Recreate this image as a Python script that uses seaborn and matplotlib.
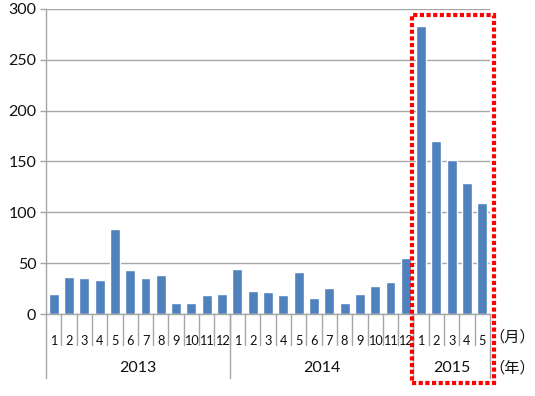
import matplotlib
matplotlib.use("Agg")
import matplotlib.pyplot as plt
import matplotlib.transforms as mtransforms
from matplotlib.patches import Rectangle
import seaborn as sns
import pandas as pd

# ---- data ----
years = ["2013", "2014", "2015"]
months_2013 = [1, 2, 3, 4, 5, 6, 7, 8, 9, 10, 11, 12]
months_2014 = [1, 2, 3, 4, 5, 6, 7, 8, 9, 10, 11, 12]
months_2015 = [1, 2, 3, 4, 5]
values_2013 = [20, 36, 35, 33, 84, 43, 35, 38, 11, 11, 19, 20]
values_2014 = [44, 23, 22, 19, 41, 16, 26, 11, 20, 28, 31, 55]
values_2015 = [283, 170, 151, 129, 109]
y_ticks = [0, 50, 100, 150, 200, 250, 300]
month_unit = "（月）"
year_unit = "（年）"

month_groups = [months_2013, months_2014, months_2015]
value_groups = [values_2013, values_2014, values_2015]
keys, labels, vals, yrs = [], [], [], []
for y, ms, vs in zip(years, month_groups, value_groups):
    for m, v in zip(ms, vs):
        keys.append(f"{y}-{m}")
        labels.append(str(m))
        vals.append(v)
        yrs.append(y)
df = pd.DataFrame({"key": keys, "value": vals, "year": yrs})

sns.set_style("white")
plt.rcParams["font.family"] = ["Lato", "Noto Sans CJK JP", "DejaVu Sans"]

fig = plt.figure(figsize=(5.35, 3.96), dpi=100)
ax = fig.add_axes([46 / 535, 1 - 314 / 396, 444 / 535, 305 / 396])

sns.barplot(data=df, x="key", y="value", color="#4F81BD", saturation=1,
            width=0.65, ax=ax, order=keys)

n = len(keys)
ax.set_xlim(-0.5, n - 0.5)
ax.set_ylim(0, 300)
ax.set_yticks(y_ticks)
ax.set_yticklabels([str(t) for t in y_ticks], fontsize=11.5, color="#111111")
ax.yaxis.grid(True, color="#A6A6A6", linewidth=1.0)
ax.set_axisbelow(True)
ax.set_xlabel("")
ax.set_ylabel("")
ax.set_xticks(range(n))
ax.set_xticklabels(labels, fontsize=9.2, color="#111111")
ax.tick_params(axis="x", length=0, pad=15)
ax.tick_params(axis="y", length=4, width=1, color="#A6A6A6", pad=3, left=True)
for s in ["top", "right"]:
    ax.spines[s].set_visible(False)
for s in ["left", "bottom"]:
    ax.spines[s].set_color("#A6A6A6")
    ax.spines[s].set_linewidth(1.0)

trans = mtransforms.blended_transform_factory(ax.transData, ax.transAxes)
H = 305.0
month_sep = -31 / H
year_sep = -64 / H

# month separators
for i in range(1, n):
    ax.plot([i - 0.5, i - 0.5], [0, month_sep], transform=trans, color="#A6A6A6",
            linewidth=1.0, clip_on=False)
# year separators
start = 0
bounds = [-0.5]
for ms in month_groups:
    start += len(ms)
    bounds.append(start - 0.5)
for b in bounds:
    ax.plot([b, b], [0, year_sep], transform=trans, color="#A6A6A6",
            linewidth=1.0, clip_on=False)
# year labels
for i, y in enumerate(years):
    c = (bounds[i] + bounds[i + 1]) / 2
    ax.text(c, -54 / H, y, transform=trans, ha="center", va="center",
            fontsize=11.5, color="#111111")

# units
fig.text(512 / 535, 1 - 337 / 396, month_unit, ha="center", va="center",
         fontsize=11, color="#111111", family=["Noto Sans CJK JP"])
fig.text(512 / 535, 1 - 368 / 396, year_unit, ha="center", va="center",
         fontsize=11, color="#111111", family=["Noto Sans CJK JP"])

# red dotted highlight box around 2015
x0 = bounds[2] - 0.12
x1 = bounds[3] + 0.28
ytop = (314 - 15) / H
ybot = -(383 - 314) / H
rect = Rectangle((x0, ybot), x1 - x0, ytop - ybot, transform=trans, fill=False,
                 edgecolor="#FF0000", linewidth=3, linestyle=(0, (1, 0.6)),
                 clip_on=False, zorder=5)
ax.add_patch(rect)

fig.savefig("out.png", dpi=100)
